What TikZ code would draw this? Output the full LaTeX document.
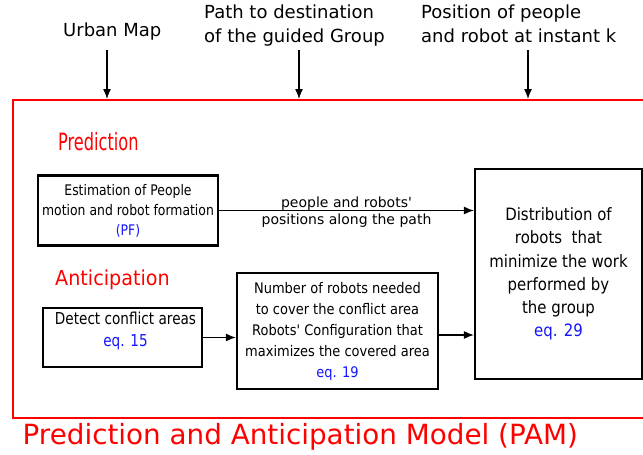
\documentclass[tikz,border=0pt]{standalone}
\usepackage{fontspec}
\usetikzlibrary{arrows.meta}
\setmainfont{DejaVu Sans}
\newfontfamily\dvtop{DejaVu Sans}
\newfontfamily\dvbox[FakeStretch=0.85]{DejaVu Sans}
\newfontfamily\dvboxb[FakeStretch=0.83]{DejaVu Sans}
\newfontfamily\dvboxc[FakeStretch=0.89]{DejaVu Sans}
\newfontfamily\dvboxd[FakeStretch=0.88]{DejaVu Sans}
\newfontfamily\dvpred[FakeStretch=0.68]{DejaVu Sans}
\newfontfamily\dvanti[FakeStretch=0.93]{DejaVu Sans}
\definecolor{pamred}{RGB}{255,0,0}
\definecolor{eqblue}{RGB}{20,20,255}
\tikzset{
  toplabel/.style={inner sep=0pt, anchor=north west, align=left,
    font=\dvtop\fontsize{18}{24}\selectfont},
  blockbox/.style={draw=black, line width=2.2pt, inner sep=0pt, align=center},
  redframe/.style={draw=pamred, line width=2pt, inner sep=0pt},
  flow/.style={draw=black, line width=1.3pt, -{Latex[length=10pt,width=8pt]}},
  redlabel/.style={text=pamred, inner sep=0pt},
  flowlabel/.style={inner sep=0pt, anchor=base, font=\dvtop\fontsize{14}{17}\selectfont},
}
\newcommand{\eqc}[1]{\textcolor{eqblue}{#1}}
\begin{document}
\begin{tikzpicture}[x=1pt,y=-1pt]
\useasboundingbox (0,0) rectangle (643,455);
\clip (0,0) rectangle (643,455);

% top labels
\node[toplabel, anchor=base west] (lmap) at (63,36) {Urban Map};
\node[toplabel] (lpath) at (204,4.6) {Path to destination\\of the guided Group};
\node[toplabel] (lpos) at (421,4.6) {Position of people\\and robot at instant k};

% red frame
\node[redframe, minimum width=660pt, minimum height=318pt] (pam) at (342.5,259) {};

% title
\node[redlabel, font=\dvtop\fontsize{27.8}{33}\selectfont, anchor=base west] (title) at (22.5,444.3)
  {Prediction and Anticipation Model (PAM)};

% section labels
\node[redlabel, font=\dvpred\fontsize{23.8}{28}\selectfont, anchor=base west] (pred) at (58,150)
  {Prediction};
\node[redlabel, font=\dvanti\fontsize{20.6}{25}\selectfont, anchor=base west] (anti) at (55,285)
  {Anticipation};

% blocks
\node[blockbox, minimum width=180pt, minimum height=70pt,
  font=\dvbox\fontsize{14.6}{20}\selectfont] (est) at (128,210.5)
  {Estimation of People\\motion and robot formation\\\eqc{(PF)}};
\node[blockbox, minimum width=159pt, minimum height=59pt,
  font=\dvboxb\fontsize{16.4}{22}\selectfont] (det) at (122.5,337.5)
  {\hspace*{6pt}Detect conflict areas\\\hspace*{6pt}\eqc{eq. 15}\\[-6pt]};
\node[blockbox, minimum width=201pt, minimum height=116pt,
  font=\dvboxc\fontsize{14.6}{21}\selectfont] (num) at (337.5,331)
  {Number of robots needed\\to cover the conflict area\\Robots' Configuration that\\maximizes the covered area\\\eqc{eq. 19}};
\node[blockbox, minimum width=167pt, minimum height=210pt,
  font=\dvboxd\fontsize{17}{23.3}\selectfont] (dist) at (558.5,274)
  {Distribution of\\robots\ \ that\\minimize the work\\performed by\\the group\\\eqc{eq. 29}};

% top arrows
\coordinate (smap) at (107,50);
\coordinate (spath) at (299,50);
\coordinate (spos) at (528,50);
\draw[flow] (smap) -- (smap |- pam.north);
\draw[flow] (spath) -- (spath |- pam.north);
\draw[flow] (spos) -- (spos |- pam.north);

% inner arrows
\draw[flow] (est.east) -- (dist.west |- est.east)
  node[flowlabel, midway, yshift=3.5pt] (fl1) {people and robots'}
  node[flowlabel, midway, yshift=-13.5pt] (fl2) {positions along the path};
\draw[flow] (det.east) -- (num.west |- det.east);
\draw[flow] (num.east |- 0,335) -- (dist.west |- 0,335);
\end{tikzpicture}
\end{document}
